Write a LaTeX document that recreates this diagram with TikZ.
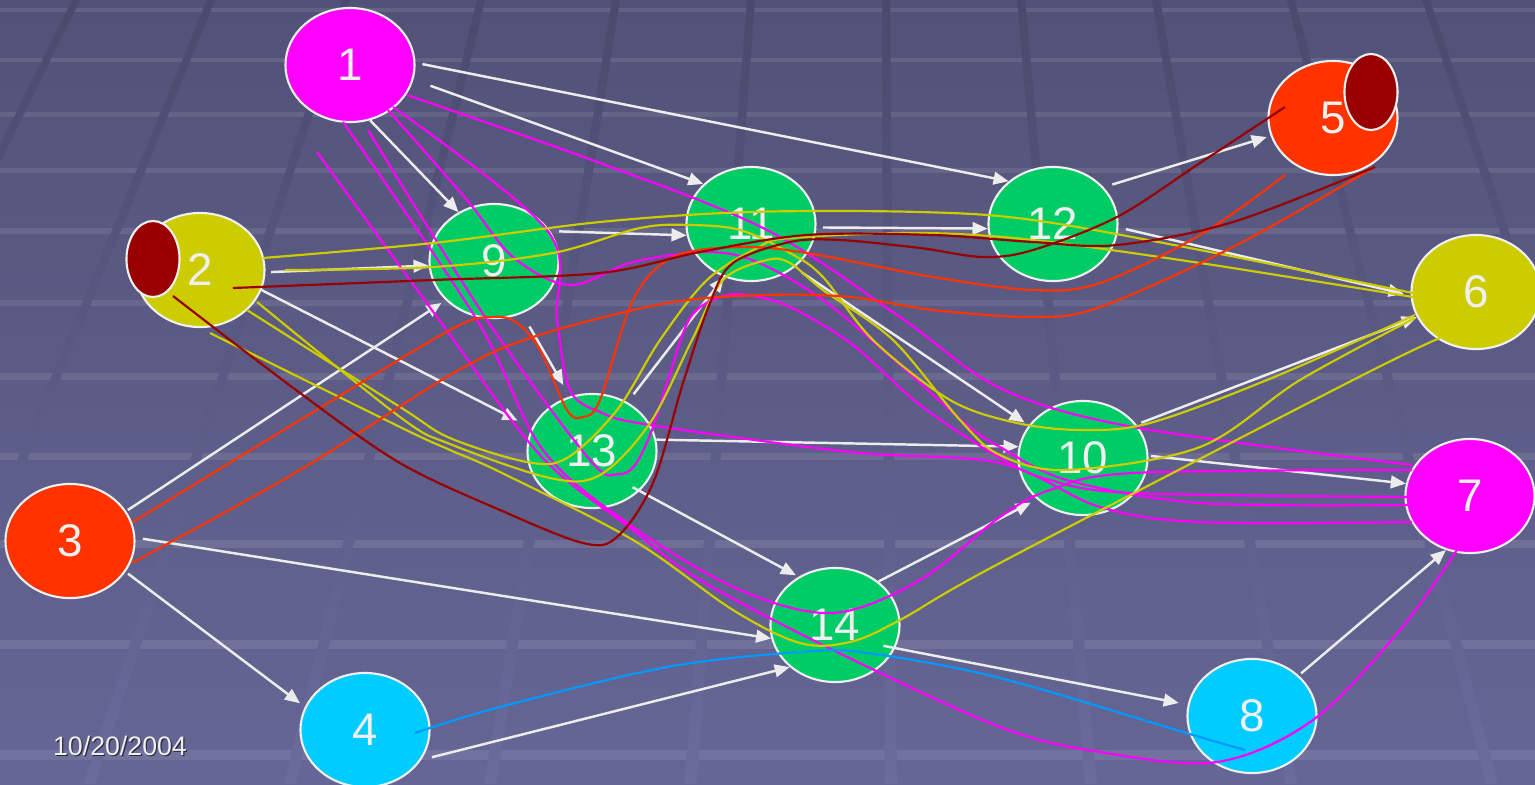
\documentclass[tikz,border=0pt]{standalone}
\usepackage{fontspec}
\setmainfont{Liberation Sans}
\usetikzlibrary{shapes.geometric,arrows.meta}

\definecolor{bgtop}{RGB}{82,82,120}
\definecolor{bgbot}{RGB}{102,102,150}
\definecolor{raytop}{RGB}{74,74,110}
\definecolor{raymid}{RGB}{88,88,128}
\definecolor{raybot}{RGB}{107,107,156}
\definecolor{edgec}{RGB}{240,240,240}
\definecolor{linkc}{RGB}{236,236,236}
\definecolor{labelc}{RGB}{240,240,240}
\definecolor{cmag}{RGB}{255,0,255}
\definecolor{cyel}{RGB}{204,204,0}
\definecolor{corg}{RGB}{255,51,0}
\definecolor{cdred}{RGB}{153,0,0}
\definecolor{cblue}{RGB}{0,153,255}
\definecolor{ccyan}{RGB}{0,204,255}
\definecolor{cgreen}{RGB}{0,204,102}

\tikzset{
  vtx/.style={ellipse, draw=edgec, line width=0.6pt, inner sep=0pt,
    minimum width=1.29cm, minimum height=1.14cm, text=labelc,
    font=\fontsize{13}{15}\selectfont},
  blob/.style={ellipse, draw=edgec, line width=0.6pt, inner sep=0pt,
    fill=cdred, minimum width=0.53cm, minimum height=0.76cm},
  link/.style={draw=linkc, line width=0.7pt,
    -{Triangle[length=4.3pt,width=3.6pt]}},
  route/.style={line width=0.62pt}
}

\begin{document}
\begin{tikzpicture}[x=0.01cm,y=-0.01cm]
\useasboundingbox (0,0) rectangle (1535,784);

% floor background
\shade[top color=bgtop,bottom color=bgbot] (0,0) rectangle (1535,784);
\foreach \yy/\hh in {8/4,58/4,112/4.5,168/5,228/5.5,300/6,373/6.5,453/7,540/8,640/9,750/10}
  \fill[white,opacity=0.09] (0,\yy) rectangle (1535,\yy+\hh);
\foreach \k in {-1,...,11}{
  \pgfmathsetmacro\xt{76+135*\k}
  \pgfmathsetmacro\xb{\xt+(\xt-876)*0.484}
  \shade[top color=raytop,middle color=raymid,bottom color=raybot]
    (\xt-4,0) -- (\xt+4,0) -- (\xb+6,784) -- (\xb-6,784) -- cycle;
}

% vertices
\node[vtx,fill=cmag]   (n1)  at (350,65)   {1};
\node[vtx,fill=cyel]   (n2)  at (200,270)  {2};
\node[vtx,fill=corg]   (n3)  at (70,541)   {3};
\node[vtx,fill=ccyan]  (n4)  at (365,730)  {4};
\node[vtx,fill=corg]   (n5)  at (1333,118) {5};
\node[vtx,fill=cyel]   (n6)  at (1476,292) {6};
\node[vtx,fill=cmag]   (n7)  at (1470,496) {7};
\node[vtx,fill=ccyan]  (n8)  at (1252,716) {8};
\node[vtx,fill=cgreen] (n9)  at (494,261)  {9};
\node[vtx,fill=cgreen] (n10) at (1083,458) {10};
\node[vtx,fill=cgreen] (n11) at (751,224)  {11};
\node[vtx,fill=cgreen] (n12) at (1053,224) {12};
\node[vtx,fill=cgreen] (n13) at (592,451)  {13};
\node[vtx,fill=cgreen] (n14) at (835,625)  {14};
\node[blob] (b2) at (153,259) {};
\node[blob] (b5) at (1371,92) {};

% directed edges
\draw[link,shorten <=0.07cm] (n1.2) -- (n12.136);
\draw[link,shorten <=0.18cm] (n1.-13) -- (n11.140);
\draw[link] (n1.-70) -- (n9.126);
\draw[link,shorten <=0.055cm] (n2.-2) -- (n9.184);
\draw[link,shorten >=0.16cm] (n2.-18) -- (n13.159);
\draw[link,shorten <=0.02cm,shorten >=0.05cm] (n3.28) -- (n9.219);
\draw[link,shorten <=0.075cm] (n3.3) -- (n14.192);
\draw[link,shorten <=0.03cm,shorten >=0.06cm] (n3.-29) -- (n4.159);
\draw[link,shorten <=0.11cm] (n4.-28) -- (n14.223);
\draw[link,shorten <=0.09cm] (n9.28) -- (n11.190);
\draw[link,shorten <=0.15cm,shorten >=0.13cm] (n9.-62) -- (n13.112);
\draw[link,shorten <=0.065cm] (n11.-3) -- (n12.184);
\draw[link,shorten <=0.09cm,shorten >=0.05cm] (n11.-45) -- (n10.149);
\draw[link,shorten <=0.09cm,shorten >=0.04cm] (n12.36) -- (n5.196);
\draw[link,shorten <=0.075cm,shorten >=0.07cm] (n12.-3) -- (n6.183);
\draw[link,shorten <=0.10cm] (n13.54) -- (n11.243);
\draw[link] (n13.10) -- (n10.170);
\draw[link,shorten <=-0.08cm,shorten >=0.03cm] (n13.-40) -- (n14.127);
\draw[link,shorten >=0.07cm] (n14.45) -- (n10.222);
\draw[link,shorten <=-0.12cm,shorten >=0.09cm] (n14.-21) -- (n8.170);
\draw[link,shorten <=0.05cm] (n10.32) -- (n6.203);
\draw[link,shorten <=0.025cm] (n10.2) -- (n7.169);
\draw[link,shorten <=0.03cm] (n8.41) -- (n7.246);

% routes from 1 to 7
\draw[route,cmag] plot[smooth,tension=0.55] coordinates {(407,95) (600,163) (767,230) (900,317) (1000,388) (1133,427) (1412,465)};
\draw[route,cmag] plot[smooth,tension=0.55] coordinates {(388,110) (467,200) (513,257) (570,285) (633,262) (707,252) (757,262) (823,300) (900,365) (967,425) (1000,447) (1067,480) (1200,503) (1412,505)};
\draw[route,cmag] plot[smooth,tension=0.55] coordinates {(393,107) (547,230) (557,320) (570,390) (600,412) (650,425) (850,452) (1000,463) (1100,507) (1200,522) (1412,522)};
\draw[route,cmag] plot[smooth,tension=0.55] coordinates {(343,122) (477,320) (543,450) (633,527) (740,590) (833,613) (920,580) (1000,517) (1050,490) (1133,473) (1412,470)};
\draw[route,cmag] plot[smooth,tension=0.55] coordinates {(368,130) (487,320) (590,460) (618,474) (635,465) (652,430) (668,380) (690,318) (720,297) (747,295) (790,307) (853,345) (920,405) (1000,458) (1050,480) (1133,493) (1412,497)};
\draw[route,cmag] plot[smooth,tension=0.55] coordinates {(317,152) (437,317) (540,455) (633,530) (700,580) (833,650) (1000,727) (1100,752) (1217,762) (1313,720) (1400,630) (1457,550)};

% routes from 2 to 6
\draw[route,cyel] plot[smooth,tension=0.55] coordinates {(263,258) (433,243) (600,222) (750,212) (920,212) (1033,220) (1200,250) (1413,293)};
\draw[route,cyel] plot[smooth,tension=0.55] coordinates {(285,270) (433,267) (553,253) (640,228) (690,225) (740,230) (790,253) (823,277) (873,340) (950,400) (1017,423) (1083,430) (1150,423) (1267,380) (1415,315)};
\draw[route,cyel] plot[smooth,tension=0.55] coordinates {(247,310) (400,407) (450,438) (527,462) (567,458) (617,410) (660,340) (707,280) (757,248) (790,238) (920,233) (1033,240) (1200,263) (1413,297)};
\draw[route,cyel] plot[smooth,tension=0.55] coordinates {(257,302) (400,417) (450,444) (550,478) (600,475) (650,423) (692,340) (723,280) (767,260) (790,263) (823,290) (893,340) (960,420) (1000,455) (1067,470) (1200,447) (1300,380) (1415,318)};
\draw[route,cyel] plot[smooth,tension=0.55] coordinates {(210,333) (400,427) (450,450) (500,472) (633,540) (733,610) (800,643) (850,642) (900,620) (1000,563) (1353,380) (1440,338)};

% routes from 3 to 5
\draw[route,corg] plot[smooth,tension=0.55] coordinates {(133,522) (300,420) (450,330) (493,317) (517,323) (540,350) (567,410) (583,417) (600,400) (633,300) (673,257) (740,247) (807,253) (933,277) (1033,290) (1100,283) (1200,235) (1285,175)};
\draw[route,corg] plot[smooth,tension=0.55] coordinates {(132,563) (300,470) (450,375) (533,337) (667,303) (767,295) (850,297) (933,310) (1033,317) (1100,307) (1233,247) (1373,168)};

% routes from 2 to 5
\draw[route,cdred] plot[smooth,tension=0.55] coordinates {(233,288) (433,280) (600,273) (700,252) (807,235) (933,235) (1033,242) (1117,245) (1233,222) (1375,167)};
\draw[route,cdred] plot[smooth,tension=0.55] coordinates {(173,296) (300,393) (400,463) (500,510) (583,543) (617,537) (653,483) (683,383) (710,303) (733,263) (790,242) (840,240) (920,248) (983,257) (1033,250) (1117,217) (1200,163) (1285,107)};

% route from 4 to 8
\draw[route,cblue] plot[smooth,tension=0.55] coordinates {(415,733) (500,707) (667,667) (800,652) (867,653) (1000,678) (1193,735) (1245,750)};

% date
\node[font=\fontsize{7.6}{9}\selectfont,text={rgb,255:red,40;green,40;blue,60}] (dateshadow) at (121.2,747.2) {10/20/2004};
\node[font=\fontsize{7.6}{9}\selectfont,text=labelc] (date) at (120,746) {10/20/2004};
\end{tikzpicture}
\end{document}
